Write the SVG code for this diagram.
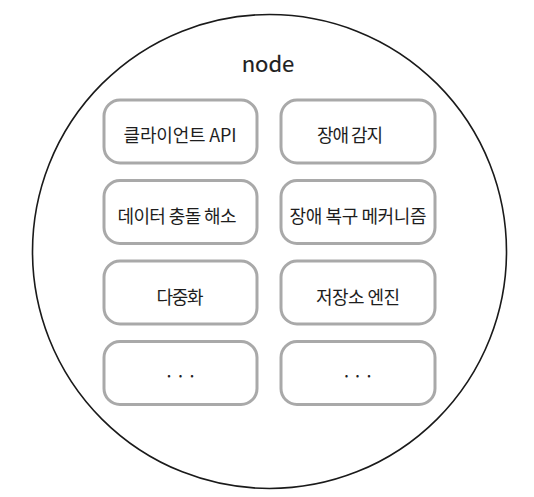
<svg xmlns="http://www.w3.org/2000/svg" width="534" height="497" viewBox="0 0 534 497">
<style>
.box{fill:#fff;stroke:#a9a9a9;stroke-width:3}
.lbl{font-family:"Noto Sans CJK KR","Noto Sans",sans-serif;font-size:18px;fill:#1e1e1e;text-anchor:middle}
.ttl{font-family:"Noto Sans CJK KR","Noto Sans",sans-serif;font-size:22px;font-weight:400;fill:#1e1e1e;stroke:#1e1e1e;stroke-width:0.2;text-anchor:middle}
</style>
<rect width="534" height="497" fill="#fff"/>
<g id="node">
<circle cx="269.5" cy="251.5" r="237" fill="#fff" stroke="#1a1a1a" stroke-width="1.6"/>
<text class="ttl" x="268" y="71.5">node</text>
</g>
<g id="client-api"><rect class="box" x="104" y="100" width="153" height="63" rx="16"/><text class="lbl" x="180" y="142" textLength="113">클라이언트 API</text></g>
<g id="failure-detection"><rect class="box" x="281" y="100" width="154" height="63" rx="16"/><text class="lbl" x="350" y="142" textLength="66">장애 감지</text></g>
<g id="conflict-resolution"><rect class="box" x="104" y="180.5" width="153" height="63" rx="16"/><text class="lbl" x="177" y="222.5" textLength="119">데이터 충돌 해소</text></g>
<g id="failure-recovery"><rect class="box" x="281" y="180.5" width="154" height="63" rx="16"/><text class="lbl" x="358" y="222.5" textLength="137">장애 복구 메커니즘</text></g>
<g id="replication"><rect class="box" x="104" y="261" width="153" height="63" rx="16"/><text class="lbl" x="180" y="303.5" textLength="47">다중화</text></g>
<g id="storage-engine"><rect class="box" x="281" y="261" width="154" height="63" rx="16"/><text class="lbl" x="358" y="303.5" textLength="84">저장소 엔진</text></g>
<g id="more-left"><rect class="box" x="104" y="341.5" width="153" height="63" rx="16"/><text class="lbl" x="169 180.5 192" y="383">···</text></g>
<g id="more-right"><rect class="box" x="281" y="341.5" width="154" height="63" rx="16"/><text class="lbl" x="346.5 357.5 369" y="383">···</text></g>
<g id="connectors"></g>
</svg>
